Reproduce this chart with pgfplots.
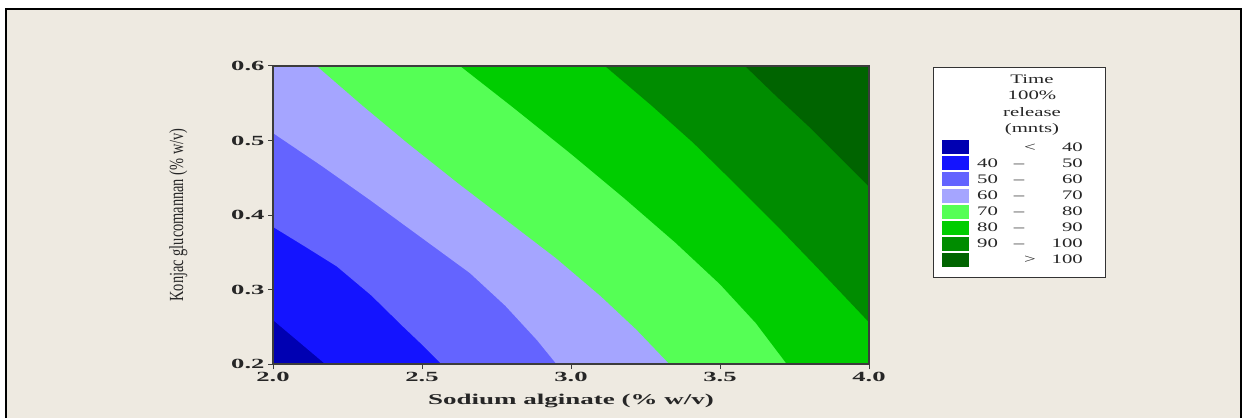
\documentclass[border=0pt]{standalone}
\usepackage{pgfplots}
\pgfplotsset{compat=1.18}
\usepackage{fontspec}
\setmainfont{Liberation Serif}
\newfontfamily\tickfont[FakeStretch=1.9]{Liberation Serif}
\newfontfamily\labfont[FakeStretch=1.8]{Liberation Serif}
\newfontfamily\ylabfont[FakeStretch=0.72]{Liberation Serif}
\newfontfamily\legfont[FakeStretch=1.6]{Liberation Serif}

\definecolor{bg}{RGB}{238,234,225}
\definecolor{ca}{RGB}{0,0,178}
\definecolor{cb}{RGB}{20,20,255}
\definecolor{cc}{RGB}{100,100,255}
\definecolor{cd}{RGB}{165,165,255}
\definecolor{ce}{RGB}{85,255,85}
\definecolor{cf}{RGB}{0,205,0}
\definecolor{cg}{RGB}{0,140,0}
\definecolor{ch}{RGB}{0,100,0}
\definecolor{axc}{RGB}{60,60,60}

\begin{document}
\begin{tikzpicture}
\useasboundingbox (0pt,0pt) rectangle (1243pt,418pt);
\fill[white] (0pt,0pt) rectangle (1243pt,418pt);
\fill[bg] (6pt,0pt) rectangle (1241pt,409pt);
\draw[black, line width=1.6pt] (6pt,0pt) -- (6pt,409pt) -- (1241pt,409pt) -- (1241pt,0pt);

\begin{axis}[
  at={(273pt,54pt)}, anchor=south west,
  scale only axis, width=596pt, height=298pt,
  xmin=2, xmax=4, ymin=0.2, ymax=0.6,
  axis on top,
  axis line style={axc, line width=1.2pt},
  xtick={2,2.5,3,3.5,4},
  ytick={0.2,0.3,0.4,0.5,0.6},
  tick align=outside, tick pos=left,
  major tick length=5pt,
  tick style={axc, line width=1pt},
  /pgf/number format/fixed,
  /pgf/number format/fixed zerofill,
  /pgf/number format/precision=1,
  /pgf/number format/assume math mode=true,
  tick label style={font=\tickfont\bfseries\fontsize{14}{16}\selectfont, text=black!85},
  xlabel={\labfont\bfseries Sodium alginate (\% w/v)},
  xlabel style={at={(axis description cs:0.5,-0.124)}, anchor=center,
    font=\fontsize{15}{17}\selectfont, text=black!85},
  ylabel={\ylabfont Konjac glucomannan (\% w/v)},
  ylabel style={at={(axis description cs:-0.159,0.5)}, anchor=center,
    font=\fontsize{20}{22}\selectfont, text=black!85},
]
% < 40
\addplot[fill=ca, draw=none] coordinates {(2,0.2) (4,0.2) (4,0.6) (2,0.6)} -- cycle;
% 40 - 50
\addplot[fill=cb, draw=none] coordinates {
  (2.0,0.259) (2.175,0.2) (4,0.2) (4,0.6) (2,0.6)} -- cycle;
% 50 - 60
\addplot[fill=cc, draw=none] coordinates {
  (2.0,0.384) (2.11,0.357) (2.214,0.331) (2.33,0.292) (2.437,0.250) (2.50,0.226)
  (2.565,0.2) (4,0.2) (4,0.6) (2,0.6)} -- cycle;
% 60 - 70
\addplot[fill=cd, draw=none] coordinates {
  (2.0,0.510) (2.163,0.466) (2.326,0.420) (2.49,0.372) (2.661,0.322) (2.78,0.278)
  (2.886,0.232) (2.951,0.2) (4,0.2) (4,0.6) (2,0.6)} -- cycle;
% 70 - 80
\addplot[fill=ce, draw=none] coordinates {
  (2.147,0.6) (2.30,0.547) (2.45,0.497) (2.62,0.443) (2.78,0.394) (2.95,0.342)
  (3.10,0.291) (3.22,0.246) (3.33,0.2) (4,0.2) (4,0.6)} -- cycle;
% 80 - 90
\addplot[fill=cf, draw=none] coordinates {
  (2.628,0.6) (2.81,0.543) (3.0,0.482) (3.18,0.422) (3.35,0.363) (3.50,0.307)
  (3.62,0.255) (3.724,0.2) (4,0.2) (4,0.6)} -- cycle;
% 90 - 100
\addplot[fill=cg, draw=none] coordinates {
  (3.114,0.6) (3.27,0.547) (3.41,0.497) (3.55,0.442) (3.69,0.386) (3.82,0.332)
  (3.91,0.294) (4.0,0.256) (4,0.6)} -- cycle;
% > 100
\addplot[fill=ch, draw=none] coordinates {
  (3.584,0.6) (3.69,0.559) (3.80,0.518) (3.90,0.478) (4.0,0.438) (4,0.6)} -- cycle;
\end{axis}

% legend
\draw[fill=white, draw=black!80, line width=1pt] (933pt,140pt) rectangle (1105pt,350pt);
\begin{scope}[every node/.style={inner sep=0pt, text=black!85,
    font=\legfont\fontsize{13}{15}\selectfont}]
\node[anchor=base] at (1032pt,334pt) {Time};
\node[anchor=base] at (1032pt,318pt) {100\%};
\node[anchor=base] at (1032pt,301.5pt) {release};
\node[anchor=base] at (1032pt,285pt) {(mnts)};
\foreach \c/\b [count=\i from 0] in {ca/40, cb/50, cc/60, cd/70,
    ce/80, cf/90, cg/100, ch/100} {
  \pgfmathsetmacro{\yy}{270.7-16.1*\i}
  \fill[\c] (942pt,\yy pt-7pt) rectangle (969pt,\yy pt+7pt);
  \node[anchor=base east] at (1083pt,\yy pt-4pt) {\b};
}
\node[anchor=base] at (1030pt,266.7pt) {<};
\node[anchor=base] at (1030pt,154pt) {>};
\foreach \a [count=\i from 1] in {40,50,60,70,80,90} {
  \pgfmathsetmacro{\yy}{270.7-16.1*\i}
  \node[anchor=base west] at (977pt,\yy pt-4pt) {\a};
  \node[anchor=base] at (1019pt,\yy pt-4pt) {–};
}
\end{scope}
\end{tikzpicture}
\end{document}
